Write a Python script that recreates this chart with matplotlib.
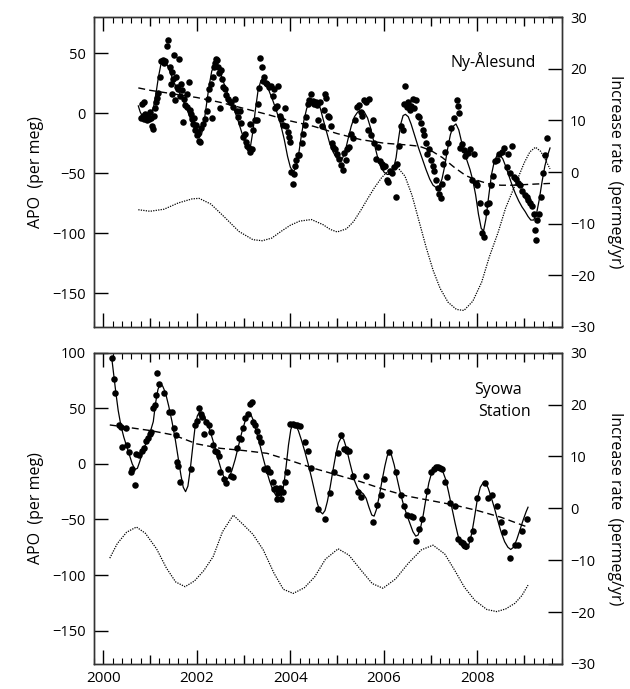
import matplotlib.pyplot as plt
from matplotlib.ticker import FixedLocator, FuncFormatter

plt.rcParams['font.family'] = ['Open Sans', 'DejaVu Sans']

# ---- Ny-Alesund: flask APO (year, per meg) ----
ny_obs = [
    (2000.80, -4), (2000.83, 8), (2000.85, -2), (2000.87, 9), (2000.88, -5), (2000.90, -1),
    (2000.92, -4), (2000.94, -6), (2000.96, -3), (2000.98, -5), (2001.00, 1), (2001.02, -4),
    (2001.04, -11), (2001.06, -13), (2001.08, -2), (2001.10, 4), (2001.12, 9), (2001.15, 13),
    (2001.18, 17), (2001.21, 30), (2001.24, 43), (2001.27, 44), (2001.30, 42), (2001.33, 43),
    (2001.37, 56), (2001.39, 61), (2001.42, 38), (2001.44, 24), (2001.46, 16), (2001.47, 34),
    (2001.50, 28), (2001.52, 48), (2001.54, 11), (2001.56, 30), (2001.58, 22), (2001.60, 20),
    (2001.63, 45), (2001.65, 14), (2001.67, 24), (2001.69, 19), (2001.71, -7), (2001.73, 12),
    (2001.75, 7), (2001.78, 16), (2001.80, 5), (2001.84, 26), (2001.86, 3), (2001.88, -1),
    (2001.90, -5), (2001.92, -9), (2001.94, -4), (2001.96, -14), (2001.98, -10), (2002.00, -18),
    (2002.02, -16), (2002.05, -23), (2002.07, -24), (2002.10, -12), (2002.14, -9), (2002.18, -5),
    (2002.22, 2), (2002.24, 12), (2002.27, 20), (2002.30, 24), (2002.32, -4), (2002.34, 30),
    (2002.36, 38), (2002.38, 42), (2002.40, 45), (2002.43, 44), (2002.45, 38), (2002.47, 33),
    (2002.49, 4), (2002.52, 36), (2002.54, 28), (2002.57, 22), (2002.60, 20), (2002.63, 15),
    (2002.66, 12), (2002.70, 9), (2002.74, 9), (2002.78, 5), (2002.81, 12), (2002.85, 2),
    (2002.88, -3), (2002.92, 2), (2002.95, -8), (2002.99, -20), (2003.02, -17), (2003.05, -24),
    (2003.08, -27), (2003.11, -29), (2003.14, -32), (2003.17, -30), (2003.13, -9), (2003.20, -14),
    (2003.24, -6), (2003.28, -6), (2003.31, 8), (2003.34, 21), (2003.36, 46), (2003.39, 38),
    (2003.42, 27), (2003.44, 30), (2003.47, 25), (2003.50, 24), (2003.54, 22), (2003.58, 23),
    (2003.62, 14), (2003.65, 20), (2003.68, 4), (2003.71, 6), (2003.74, 23), (2003.77, -2),
    (2003.80, -5), (2003.84, -10), (2003.88, 4), (2003.91, -11), (2003.94, -16), (2003.97, -20),
    (2004.00, -24), (2004.02, -49), (2004.05, -59), (2004.08, -51), (2004.10, -44), (2004.13, -39),
    (2004.16, -35), (2004.19, -35), (2004.24, -25), (2004.28, -17), (2004.31, -10), (2004.34, -3),
    (2004.37, 8), (2004.39, 11), (2004.42, 9), (2004.45, 16), (2004.48, 10), (2004.51, 8),
    (2004.55, 9), (2004.58, 7), (2004.60, -6), (2004.64, 9), (2004.67, -11), (2004.71, 3),
    (2004.74, 16), (2004.77, 13), (2004.80, -2), (2004.83, -3), (2004.86, -11), (2004.89, -25),
    (2004.92, -28), (2004.96, -30), (2005.00, -34), (2005.04, -38), (2005.08, -43), (2005.12, -47),
    (2005.15, -33), (2005.19, -39), (2005.22, -30), (2005.26, -28), (2005.30, -17), (2005.34, -21),
    (2005.38, -6), (2005.42, 5), (2005.46, 7), (2005.50, 1), (2005.54, -2), (2005.58, 11),
    (2005.62, 9), (2005.65, -14), (2005.68, 12), (2005.72, -18), (2005.76, -6), (2005.79, -25),
    (2005.83, -38), (2005.87, -28), (2005.91, -40), (2005.95, -42), (2005.99, -45), (2006.03, -44),
    (2006.06, -56), (2006.09, -57), (2006.13, -48), (2006.17, -50), (2006.21, -45), (2006.26, -70),
    (2006.29, -42), (2006.33, -27), (2006.37, -11), (2006.40, -14), (2006.43, 8), (2006.46, 23),
    (2006.49, 5), (2006.52, 9), (2006.55, 3), (2006.58, 6), (2006.62, 12), (2006.65, 4),
    (2006.68, 11), (2006.72, -2), (2006.75, -3), (2006.79, -8), (2006.83, -14), (2006.86, -18),
    (2006.90, -25), (2006.93, -34), (2006.97, -30), (2007.00, -39), (2007.04, -44), (2007.07, -48),
    (2007.11, -56), (2007.15, -62), (2007.18, -67), (2007.21, -71), (2007.24, -59), (2007.27, -42),
    (2007.31, -32), (2007.34, -53), (2007.38, -25), (2007.44, -12), (2007.50, -4), (2007.56, 11),
    (2007.58, 6), (2007.60, 0), (2007.63, -29), (2007.67, -26), (2007.71, -31), (2007.74, -36),
    (2007.79, -33), (2007.84, -30), (2007.88, -56), (2007.92, -34), (2007.96, -58), (2008.00, -60),
    (2008.05, -75), (2008.10, -100), (2008.13, -103), (2008.18, -82), (2008.21, -76), (2008.24, -75),
    (2008.28, -60), (2008.33, -52), (2008.38, -40), (2008.42, -39), (2008.47, -34), (2008.52, -32),
    (2008.56, -29), (2008.62, -45), (2008.66, -34), (2008.70, -50), (2008.73, -27), (2008.77, -53),
    (2008.82, -55), (2008.87, -58), (2008.91, -60), (2008.96, -65), (2009.01, -68), (2009.05, -70),
    (2009.08, -72), (2009.12, -75), (2009.16, -77), (2009.20, -84), (2009.22, -97), (2009.25, -106),
    (2009.28, -89), (2009.31, -84), (2009.36, -70), (2009.41, -50), (2009.44, -35), (2009.48, -21),
]

# fitted curve (seasonal + trend)
ny_fit = [
    (2000.75, 6), (2000.79, 1), (2000.83, -2), (2000.90, -3), (2000.97, -3), (2001.03, 0),
    (2001.08, 6), (2001.13, 17), (2001.18, 30), (2001.23, 40), (2001.28, 44), (2001.33, 43),
    (2001.38, 39), (2001.45, 32), (2001.52, 25), (2001.60, 19), (2001.68, 13), (2001.76, 6),
    (2001.84, -2), (2001.92, -10), (2001.99, -17), (2002.05, -20), (2002.10, -18), (2002.15, -9),
    (2002.20, 5), (2002.26, 22), (2002.32, 35), (2002.38, 40), (2002.43, 40), (2002.49, 35),
    (2002.56, 27), (2002.64, 18), (2002.72, 10), (2002.80, 3), (2002.88, -6), (2002.96, -16),
    (2003.04, -26), (2003.10, -30), (2003.15, -27), (2003.20, -15), (2003.25, 2), (2003.31, 19),
    (2003.37, 27), (2003.42, 28), (2003.48, 25), (2003.55, 18), (2003.63, 10), (2003.71, 1),
    (2003.79, -9), (2003.87, -22), (2003.94, -36), (2004.00, -45), (2004.06, -49), (2004.11, -46),
    (2004.17, -36), (2004.23, -20), (2004.29, -6), (2004.35, 4), (2004.42, 9), (2004.50, 11),
    (2004.57, 10), (2004.64, 4), (2004.70, -5), (2004.77, -15), (2004.84, -25), (2004.91, -32),
    (2004.98, -37), (2005.05, -39), (2005.11, -38), (2005.17, -32), (2005.23, -22), (2005.30, -11),
    (2005.37, -3), (2005.44, 1), (2005.51, 2), (2005.58, 1), (2005.65, -4), (2005.72, -13),
    (2005.79, -25), (2005.86, -36), (2005.93, -44), (2006.00, -49), (2006.07, -51), (2006.14, -51),
    (2006.20, -47), (2006.26, -37), (2006.31, -22), (2006.36, -9), (2006.41, -2), (2006.46, -1),
    (2006.52, -3), (2006.58, -9), (2006.66, -19), (2006.74, -29), (2006.82, -38), (2006.90, -47),
    (2006.98, -55), (2007.05, -60), (2007.12, -62), (2007.18, -61), (2007.24, -55), (2007.30, -44),
    (2007.36, -30), (2007.42, -18), (2007.48, -11), (2007.54, -9), (2007.60, -14), (2007.66, -24),
    (2007.72, -33), (2007.78, -40), (2007.84, -47), (2007.90, -56), (2007.96, -68), (2008.02, -84),
    (2008.08, -96), (2008.13, -98), (2008.18, -88), (2008.24, -69), (2008.30, -51), (2008.36, -40),
    (2008.42, -35), (2008.48, -35), (2008.54, -38), (2008.60, -44), (2008.67, -52), (2008.74, -60),
    (2008.81, -67), (2008.88, -73), (2008.95, -78), (2009.02, -82), (2009.08, -86), (2009.14, -89),
    (2009.20, -89), (2009.26, -84), (2009.32, -72), (2009.38, -57), (2009.44, -44), (2009.50, -35),
    (2009.55, -29),
]

ny_trend = [
    (2000.75, 21), (2001.0, 19), (2001.5, 16), (2002.0, 13), (2002.5, 9), (2003.0, 4),
    (2003.5, -1), (2004.0, -6.5), (2004.5, -11), (2005.0, -17), (2005.5, -22), (2006.0, -25),
    (2006.5, -26.5), (2006.75, -27.5), (2007.0, -31), (2007.25, -37), (2007.5, -45),
    (2007.75, -52), (2008.0, -56), (2008.25, -59), (2008.5, -60), (2008.75, -60),
    (2009.0, -59.5), (2009.25, -59), (2009.55, -58.5),
]

# trend increase rate (per meg / yr)
ny_rate = [
    (2000.75, -7.3), (2001.0, -7.6), (2001.3, -7.2), (2001.6, -6.0), (2001.9, -5.2),
    (2002.05, -5.1), (2002.3, -6.2), (2002.6, -8.8), (2002.9, -11.5), (2003.2, -13.1),
    (2003.4, -13.3), (2003.6, -12.8), (2003.8, -11.5), (2004.0, -10.3), (2004.2, -9.5),
    (2004.45, -9.2), (2004.7, -10.2), (2004.85, -11.1), (2005.0, -11.6), (2005.2, -11.0),
    (2005.35, -9.6), (2005.5, -7.5), (2005.65, -5.2), (2005.8, -3.0), (2005.95, -1.1),
    (2006.1, 0.3), (2006.3, 0.8), (2006.45, -0.8), (2006.6, -4.5), (2006.75, -9.5),
    (2006.9, -14.5), (2007.05, -19.0), (2007.2, -22.5), (2007.37, -25.2), (2007.55, -26.6),
    (2007.71, -26.8), (2007.9, -25.0), (2008.09, -21.3), (2008.25, -16.5), (2008.44, -11.7),
    (2008.6, -7.0), (2008.8, -2.6), (2009.0, 1.8), (2009.12, 3.9), (2009.24, 4.8),
    (2009.35, 4.0), (2009.45, 2.4), (2009.55, 0.6),
]

# ---- Syowa Station ----
sy_obs = [
    (2000.19, 95), (2000.23, 76), (2000.26, 64), (2000.34, 35), (2000.37, 33), (2000.41, 15),
    (2000.48, 32), (2000.51, 17), (2000.55, 11), (2000.59, -7), (2000.62, -5), (2000.67, -19),
    (2000.69, 9), (2000.76, 8), (2000.83, 12), (2000.87, 14), (2000.91, 21), (2000.95, 23),
    (2000.99, 27), (2001.03, 29), (2001.07, 50), (2001.10, 53), (2001.12, 62), (2001.16, 82),
    (2001.20, 72), (2001.30, 64), (2001.40, 47), (2001.46, 47), (2001.51, 32), (2001.55, 26),
    (2001.57, 2), (2001.60, -2), (2001.65, -16), (2001.87, -5), (2001.97, 35), (2002.01, 39),
    (2002.05, 50), (2002.09, 45), (2002.12, 42), (2002.15, 27), (2002.20, 38), (2002.26, 35),
    (2002.30, 29), (2002.35, 17), (2002.38, 12), (2002.44, 11), (2002.48, 7), (2002.50, -7),
    (2002.58, -14), (2002.62, -17), (2002.67, -5), (2002.74, -11), (2002.78, -12), (2002.86, 14),
    (2002.90, 23), (2002.95, 22), (2002.99, 32), (2003.03, 41), (2003.09, 45), (2003.14, 54),
    (2003.17, 56), (2003.20, 38), (2003.24, 35), (2003.28, 30), (2003.33, 24), (2003.37, 20),
    (2003.44, -5), (2003.49, -4), (2003.53, -6), (2003.56, -7), (2003.62, -16), (2003.66, -23),
    (2003.69, -22), (2003.71, -32), (2003.74, -26), (2003.78, -22), (2003.81, -32), (2003.85, -25),
    (2003.89, -16), (2003.93, -7), (2004.00, 36), (2004.05, 36), (2004.09, 35), (2004.14, 35),
    (2004.20, 34), (2004.31, 20), (2004.38, 12), (2004.45, -4), (2004.59, -41), (2004.74, -50),
    (2004.84, -26), (2004.94, -7), (2005.01, 10), (2005.08, 26), (2005.15, 13), (2005.19, 13),
    (2005.22, 12), (2005.26, 12), (2005.33, -11), (2005.44, -25), (2005.51, -30), (2005.61, -11),
    (2005.76, -52), (2005.86, -37), (2005.93, -28), (2006.00, -14), (2006.11, 11), (2006.25, -7),
    (2006.36, -28), (2006.43, -38), (2006.50, -46), (2006.57, -47), (2006.62, -48), (2006.68, -69),
    (2006.75, -59), (2006.82, -50), (2006.93, -24), (2007.00, -7), (2007.07, -5), (2007.12, -3),
    (2007.16, -3), (2007.20, -4), (2007.25, -5), (2007.31, -16), (2007.41, -35), (2007.51, -38),
    (2007.59, -68), (2007.64, -70), (2007.68, -71), (2007.72, -73), (2007.76, -74), (2007.84, -68),
    (2007.91, -60), (2007.98, -31), (2008.16, -17), (2008.23, -31), (2008.30, -28), (2008.41, -38),
    (2008.51, -52), (2008.56, -61), (2008.69, -85), (2008.80, -73), (2008.87, -73), (2008.95, -60),
    (2009.05, -50),
]

sy_fit = [
    (2000.18, 96), (2000.22, 82), (2000.27, 64), (2000.32, 48), (2000.38, 34), (2000.44, 24),
    (2000.50, 16), (2000.56, 8), (2000.62, 0), (2000.68, -5), (2000.73, -4), (2000.78, 2),
    (2000.85, 12), (2000.93, 20), (2001.00, 28), (2001.07, 38), (2001.12, 55), (2001.17, 67),
    (2001.22, 72), (2001.27, 70), (2001.33, 64), (2001.40, 52), (2001.47, 38), (2001.54, 22),
    (2001.60, 6), (2001.66, -10), (2001.71, -21), (2001.76, -25), (2001.81, -20), (2001.86, -5),
    (2001.91, 14), (2001.96, 32), (2002.01, 43), (2002.06, 47), (2002.11, 46), (2002.17, 42),
    (2002.24, 35), (2002.31, 26), (2002.38, 16), (2002.45, 5), (2002.52, -5), (2002.58, -12),
    (2002.63, -14), (2002.69, -12), (2002.75, -6), (2002.82, 4), (2002.89, 16), (2002.96, 28),
    (2003.03, 38), (2003.09, 44), (2003.15, 45), (2003.21, 39), (2003.28, 28), (2003.35, 17),
    (2003.42, 5), (2003.49, -6), (2003.56, -16), (2003.63, -24), (2003.70, -29), (2003.76, -31),
    (2003.81, -29), (2003.86, -19), (2003.91, -2), (2003.96, 17), (2004.01, 31), (2004.06, 36),
    (2004.11, 35), (2004.17, 30), (2004.24, 21), (2004.31, 11), (2004.38, 0), (2004.45, -12),
    (2004.52, -25), (2004.58, -36), (2004.64, -43), (2004.69, -45), (2004.74, -42), (2004.79, -34),
    (2004.85, -21), (2004.91, -6), (2004.97, 8), (2005.03, 19), (2005.09, 24), (2005.14, 22),
    (2005.20, 14), (2005.26, 3), (2005.32, -7), (2005.38, -16), (2005.44, -22), (2005.50, -25),
    (2005.56, -27), (2005.62, -31), (2005.68, -39), (2005.74, -46), (2005.79, -47), (2005.84, -41),
    (2005.90, -29), (2005.96, -15), (2006.02, -2), (2006.07, 7), (2006.11, 10), (2006.16, 8),
    (2006.22, -1), (2006.28, -13), (2006.35, -26), (2006.42, -37), (2006.49, -46), (2006.56, -54),
    (2006.62, -61), (2006.68, -65), (2006.73, -64), (2006.78, -58), (2006.84, -46), (2006.90, -31),
    (2006.96, -17), (2007.02, -8), (2007.08, -4), (2007.14, -3), (2007.20, -4), (2007.26, -7),
    (2007.32, -14), (2007.38, -25), (2007.45, -39), (2007.52, -53), (2007.58, -64), (2007.64, -72),
    (2007.70, -76), (2007.76, -77), (2007.82, -72), (2007.88, -62), (2007.94, -47), (2008.00, -31),
    (2008.06, -21), (2008.12, -17), (2008.17, -17), (2008.23, -22), (2008.30, -31), (2008.37, -41),
    (2008.44, -52), (2008.51, -62), (2008.58, -70), (2008.65, -75), (2008.71, -77), (2008.77, -75),
    (2008.84, -68), (2008.91, -59), (2008.98, -50), (2009.04, -43), (2009.08, -39),
]

sy_trend = [
    (2000.14, 35), (2000.5, 33), (2001.0, 30), (2001.5, 26), (2002.0, 18), (2002.5, 14),
    (2003.0, 12), (2003.5, 9.5), (2004.0, 3), (2004.5, -4), (2005.0, -10), (2005.5, -16),
    (2006.0, -23), (2006.5, -29), (2007.0, -33), (2007.5, -37), (2008.0, -42), (2008.5, -48),
    (2009.08, -57),
]

sy_rate = [
    (2000.14, -9.6), (2000.3, -6.8), (2000.5, -4.6), (2000.71, -3.6), (2000.9, -4.8),
    (2001.14, -7.8), (2001.35, -11.5), (2001.55, -14.2), (2001.75, -15.1), (2001.95, -14.0),
    (2002.15, -12.0), (2002.35, -9.3), (2002.55, -4.5), (2002.78, -1.3), (2003.0, -3.2),
    (2003.2, -5.0), (2003.42, -8.0), (2003.65, -12.5), (2003.85, -15.6), (2004.06, -16.4),
    (2004.3, -15.3), (2004.52, -13.2), (2004.75, -9.8), (2005.02, -7.8), (2005.25, -9.0),
    (2005.5, -11.8), (2005.75, -14.5), (2005.98, -15.4), (2006.25, -13.6), (2006.52, -10.6),
    (2006.8, -8.0), (2007.05, -7.1), (2007.3, -8.8), (2007.51, -11.9), (2007.72, -15.2),
    (2007.94, -17.7), (2008.2, -19.5), (2008.41, -19.9), (2008.6, -19.4), (2008.8, -18.3),
    (2008.95, -16.8), (2009.08, -14.8),
]

apo_ticks_ny = [-150, -100, -50, 0, 50]
apo_ticks_sy = [-150, -100, -50, 0, 50, 100]
rate_ticks = [-30, -20, -10, 0, 10, 20, 30]
year_ticks = list(range(2000, 2010))


def draw_panel(ax, obs, fit, trend, rate, ylim, yticks, show_years):
    t, v = zip(*obs)
    ax.scatter(t, v, s=22, c='k', linewidths=0, zorder=3)
    ax.plot(*zip(*fit), color='k', lw=0.9, zorder=2)
    ax.plot(*zip(*trend), color='k', lw=1.0, dashes=(5, 3), zorder=2)

    ax2 = ax.twinx()
    ax2.plot(*zip(*rate), color='k', lw=0.9, dashes=(1, 1))
    ax2.set_ylim(-30, 30)
    ax2.set_yticks(rate_ticks)
    ax2.tick_params(axis='y', direction='in', length=10, width=1, pad=6, labelsize=10.5)
    ax2.set_ylabel('Increase rate  (permeg/yr)', fontsize=11.5, rotation=270, labelpad=20)

    ax.set_xlim(1999.8, 2009.8)
    ax.set_ylim(*ylim)
    ax.set_yticks(yticks)
    ax.tick_params(axis='y', direction='in', length=10, width=1, pad=6, labelsize=10.5)
    ax.set_ylabel('APO  (per meg)', fontsize=11.5, labelpad=6)

    ax.xaxis.set_major_locator(FixedLocator(year_ticks))
    ax.xaxis.set_minor_locator(FixedLocator([y + k / 5 for y in range(1999, 2010)
                                             for k in range(1, 5)]))
    ax.xaxis.set_major_formatter(FuncFormatter(
        lambda x, p: str(int(round(x))) if show_years and round(x) % 2 == 0 else ''))
    ax.tick_params(axis='x', which='both', direction='in', top=True, bottom=True,
                   labelsize=11, pad=5)
    ax.tick_params(axis='x', which='major', length=10, width=1)
    ax.tick_params(axis='x', which='minor', length=4, width=0.8)
    # odd years get a shorter tick
    for yr, tick in zip(year_ticks, ax.xaxis.get_major_ticks()):
        if yr % 2:
            tick.tick1line.set_markersize(6.5)
            tick.tick2line.set_markersize(6.5)

    for a in (ax, ax2):
        for s in a.spines.values():
            s.set_color('#333333')
            s.set_linewidth(1)
    return ax2


fig = plt.figure(figsize=(6.3, 6.89), dpi=100)
ax_top = fig.add_axes([0.149, 0.5254, 0.7426, 0.4499])
ax_bot = fig.add_axes([0.149, 0.0363, 0.7426, 0.4518])

draw_panel(ax_top, ny_obs, ny_fit, ny_trend, ny_rate, (-178, 80), apo_ticks_ny, False)
draw_panel(ax_bot, sy_obs, sy_fit, sy_trend, sy_rate, (-180, 100), apo_ticks_sy, True)

ax_top.text(0.944, 0.857, 'Ny-Ålesund', transform=ax_top.transAxes,
            ha='right', va='center', fontsize=11.5)
ax_bot.text(0.864, 0.880, 'Syowa', transform=ax_bot.transAxes,
            ha='center', va='center', fontsize=11.5)
ax_bot.text(0.878, 0.810, 'Station', transform=ax_bot.transAxes,
            ha='center', va='center', fontsize=11.5)

fig.savefig('out.png', dpi=100)
